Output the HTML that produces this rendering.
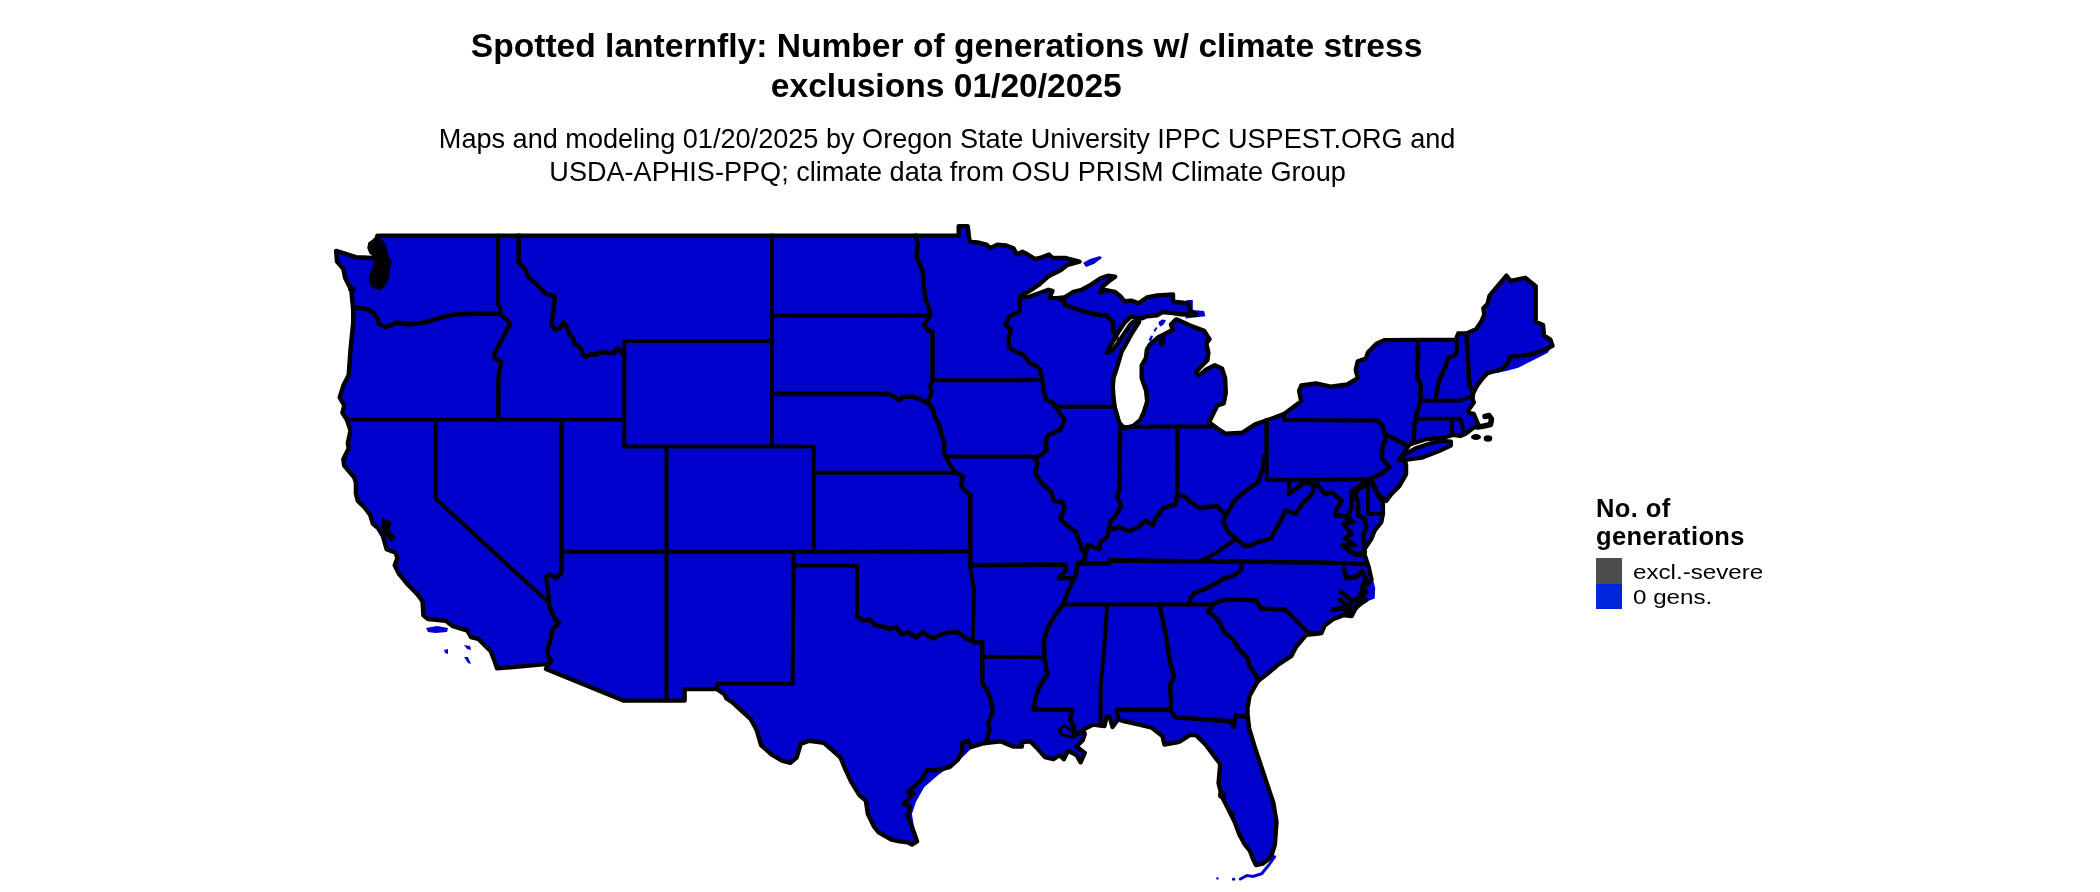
<!DOCTYPE html>
<html><head><meta charset="utf-8"><style>
html,body{margin:0;padding:0;background:#fff;}
body{width:2100px;height:892px;position:relative;overflow:hidden;font-family:"Liberation Sans",sans-serif;color:#000;}
.t{position:absolute;white-space:nowrap;will-change:transform;}
</style></head><body>
<svg width="2100" height="892" viewBox="0 0 2100 892" style="position:absolute;left:0;top:0">
<path d="M985.2,742.9 L970.6,749.2 L958.0,761.7 L939.1,774.3 L924.4,786.9 L916.1,801.6 L911.9,814.1 L914.0,826.7 L917.1,841.4 L917.1,841.4 L911.9,826.7 L907.7,816.2 L909.8,805.8 L903.5,803.7 L914.0,793.2 L907.7,792.1 L916.1,784.8 L922.4,778.5 L926.5,770.1 L937.0,770.1 L949.6,767.0 L958.0,759.6 L962.2,751.3 L962.2,742.9 L968.5,740.8 L970.6,747.1 L985.0,743.0Z" fill="#0000cc"/>
<path d="M1368.4,566.1 L1373.6,581.7 L1375.2,588.0 L1374.7,598.4 L1364.2,602.5 L1351.7,616.1 L1356.9,605.3 L1360.5,594.3 L1364.2,587.0 L1371.5,579.7Z" fill="#0000cc"/>
<path d="M1552.5,345.9 L1547.5,353.1 L1527.1,363.3 L1518.3,367.7 L1508.1,370.6 L1495.0,373.5 L1502.2,369.0 L1506.4,364.8 L1510.6,356.4 L1516.8,356.4 L1531.5,354.3 L1544.1,350.1Z" fill="#0000cc"/>
<path d="M1186.5,300.1 L1192.8,300.1 L1192.8,310.0 L1204.2,311.1 L1205.3,316.3 L1185.5,318.4Z" fill="#0000cc"/>
<path d="M377.4,235.6 L958.7,235.6 L958.7,226.1 L967.7,226.1 L969.5,241.0 L972.2,241.9 L979.4,242.8 L986.5,244.6 L990.1,248.2 L997.3,244.6 L1006.3,245.5 L1013.5,248.2 L1017.0,254.5 L1022.4,251.8 L1027.8,254.5 L1035.0,259.0 L1040.0,258.0 L1049.0,254.5 L1052.6,258.0 L1065.1,258.0 L1079.5,261.6 L1066.9,265.2 L1060.9,270.0 L1048.4,276.3 L1039.0,284.6 L1029.6,290.8 L1020.2,296.1 L1026.5,297.6 L1036.9,294.0 L1048.4,289.8 L1052.5,290.8 L1049.4,298.1 L1057.8,298.1 L1065.1,297.1 L1073.4,291.9 L1081.7,289.8 L1091.1,284.6 L1100.5,278.3 L1107.8,275.7 L1115.1,276.8 L1109.9,280.4 L1102.6,286.7 L1100.5,292.9 L1104.7,289.8 L1115.1,291.9 L1120.3,296.1 L1124.5,301.3 L1131.3,300.6 L1138.6,303.2 L1146.9,297.5 L1157.3,295.4 L1173.0,294.4 L1173.0,301.7 L1183.4,302.7 L1188.6,303.8 L1189.6,310.0 L1195.9,314.7 L1180.3,314.2 L1173.0,313.1 L1162.5,312.1 L1157.3,315.2 L1146.9,316.3 L1141.7,318.4 L1135.4,317.3 L1131.3,316.3 L1125.0,322.0 L1119.0,331.0 L1114.5,339.0 L1109.5,347.0 L1107.0,353.0 L1112.0,351.0 L1118.0,343.0 L1124.0,334.0 L1130.0,325.0 L1135.5,319.5 L1139.0,322.0 L1132.0,333.0 L1126.0,344.0 L1121.5,352.0 L1119.8,358.0 L1116.7,368.4 L1113.5,378.0 L1112.8,386.8 L1113.6,399.2 L1114.9,407.7 L1119.1,422.4 L1124.4,428.5 L1133.8,425.5 L1140.1,420.3 L1144.0,411.7 L1147.2,401.3 L1146.1,390.8 L1141.7,378.0 L1141.7,365.3 L1145.9,358.0 L1146.9,349.6 L1150.0,344.4 L1158.4,337.1 L1166.7,333.0 L1173.0,329.8 L1170.9,324.6 L1176.1,319.4 L1179.2,320.4 L1190.7,325.7 L1204.2,330.9 L1209.5,339.2 L1206.3,343.4 L1208.4,352.8 L1207.4,360.1 L1200.1,367.4 L1195.9,372.6 L1199.0,375.7 L1206.3,369.4 L1214.7,365.3 L1222.0,368.4 L1225.1,378.0 L1225.8,392.9 L1223.7,403.4 L1217.4,405.5 L1213.2,413.8 L1209.0,422.2 L1217.4,428.5 L1225.8,433.8 L1242.5,432.7 L1255.1,424.3 L1267.7,420.1 L1284.4,413.8 L1301.2,401.3 L1299.1,390.8 L1301.2,385.5 L1315.9,383.4 L1330.6,386.6 L1347.3,384.5 L1357.8,378.2 L1355.7,369.8 L1357.8,361.4 L1365.9,358.5 L1368.0,352.2 L1376.4,343.8 L1384.8,340.1 L1456.0,339.6 L1458.2,333.4 L1466.5,333.4 L1476.0,329.2 L1481.2,321.8 L1484.4,314.5 L1483.3,308.2 L1487.5,304.0 L1489.6,295.6 L1506.4,275.7 L1510.6,281.0 L1525.2,277.8 L1535.7,286.2 L1535.7,321.8 L1543.0,325.0 L1544.1,335.5 L1550.4,339.6 L1552.5,345.9 L1544.1,350.1 L1531.5,354.3 L1516.8,356.4 L1510.6,356.4 L1506.4,364.8 L1502.2,369.0 L1487.5,373.2 L1483.3,377.4 L1477.0,385.8 L1472.8,394.1 L1471.7,396.3 L1473.8,402.5 L1468.6,409.8 L1468.6,412.9 L1473.8,414.0 L1476.9,421.3 L1479.0,426.5 L1473.8,427.5 L1465.5,433.8 L1460.3,435.9 L1453.0,434.8 L1442.5,438.0 L1426.9,439.0 L1410.2,444.2 L1408.1,446.3 L1402.9,454.6 L1398.8,459.8 L1405.0,460.9 L1406.1,465.1 L1406.0,474.4 L1399.4,485.9 L1391.2,494.2 L1386.2,500.8 L1378.0,494.2 L1373.0,485.9 L1371.4,479.3 L1374.7,485.9 L1378.0,495.8 L1382.9,502.4 L1382.9,513.9 L1381.3,522.2 L1374.7,530.4 L1371.4,538.7 L1364.8,548.5 L1363.2,550.4 L1368.4,566.1 L1371.5,579.7 L1364.2,587.0 L1360.5,594.3 L1356.9,605.3 L1351.7,616.1 L1343.4,615.1 L1333.0,619.2 L1324.6,625.5 L1321.5,633.0 L1316.7,633.7 L1306.2,634.8 L1295.7,647.4 L1291.5,655.8 L1278.9,664.1 L1266.4,674.6 L1258.0,680.9 L1249.6,695.6 L1247.5,708.2 L1247.5,714.2 L1249.2,728.7 L1254.0,744.7 L1260.4,764.0 L1266.8,783.3 L1273.3,802.6 L1276.5,821.9 L1274.9,844.5 L1271.0,857.0 L1263.0,863.5 L1256.0,865.0 L1253.0,859.0 L1250.0,851.0 L1244.8,844.5 L1239.5,834.8 L1234.7,821.9 L1229.9,812.3 L1221.8,796.2 L1218.6,783.3 L1220.2,764.0 L1215.4,757.6 L1205.7,744.7 L1196.1,735.1 L1189.6,735.1 L1180.0,741.5 L1177.0,742.4 L1164.4,744.5 L1162.4,736.1 L1151.9,727.7 L1139.3,724.6 L1124.6,721.4 L1118.3,719.3 L1112.5,727.0 L1109.5,716.5 L1106.5,717.0 L1104.5,726.0 L1100.5,725.6 L1093.2,724.6 L1082.7,729.8 L1084.8,734.0 L1082.7,740.3 L1076.4,746.6 L1084.8,752.9 L1080.6,762.3 L1076.4,755.0 L1068.0,750.8 L1063.8,759.2 L1059.6,755.0 L1053.4,759.2 L1045.0,757.1 L1036.6,747.6 L1030.3,741.4 L1021.9,742.4 L1021.9,746.6 L1013.5,746.6 L1001.0,741.4 L985.0,743.0 L970.6,747.1 L968.5,740.8 L962.2,742.9 L962.2,751.3 L958.0,759.6 L949.6,767.0 L937.0,770.1 L926.5,770.1 L922.4,778.5 L916.1,784.8 L907.7,792.1 L914.0,793.2 L903.5,803.7 L909.8,805.8 L907.7,816.2 L911.9,826.7 L917.1,841.4 L911.9,844.5 L907.7,842.4 L899.3,841.4 L890.9,839.3 L878.3,832.0 L874.1,826.7 L867.9,814.1 L865.8,800.5 L859.5,795.3 L851.1,781.7 L844.8,768.0 L840.6,757.6 L832.2,750.2 L823.8,742.9 L809.2,740.8 L800.8,743.9 L796.6,757.6 L790.3,762.8 L781.9,760.7 L771.4,754.4 L761.0,745.0 L756.8,730.3 L750.5,718.8 L740.0,709.3 L732.8,702.7 L726.5,698.5 L724.4,694.3 L717.1,689.1 L684.6,689.1 L684.6,700.6 L623.8,700.6 L546.0,669.0 L548.4,663.9 L497.0,668.4 L494.3,660.3 L490.7,651.3 L478.1,638.8 L470.9,637.0 L467.4,630.7 L453.0,626.2 L445.8,620.8 L427.9,619.0 L423.4,615.4 L422.5,601.1 L417.1,593.9 L408.2,585.0 L399.2,574.2 L394.7,565.2 L397.4,558.0 L395.6,552.7 L386.6,549.1 L383.0,536.5 L378.0,528.0 L372.9,523.9 L370.2,514.9 L364.8,507.7 L357.7,500.6 L355.9,493.4 L355.9,482.6 L354.1,477.2 L344.2,465.6 L343.3,459.3 L348.7,448.5 L347.8,443.2 L350.5,430.6 L346.9,419.8 L342.4,412.7 L344.2,405.5 L339.7,397.4 L343.3,385.8 L348.7,375.0 L350.5,349.5 L353.2,322.6 L353.2,309.2 L352.3,301.1 L351.4,290.3 L348.7,285.0 L345.1,277.8 L343.3,268.8 L337.0,261.6 L336.1,250.9 L355.9,257.2 L373.8,258.0 L377.0,250.0Z" fill="#0000cc" stroke="#000" stroke-width="4.4" stroke-linejoin="round"/>
<path d="M1398.8,459.8 L1403.0,455.5 L1415.0,448.5 L1430.0,443.5 L1442.0,440.8 L1451.0,441.5 L1450.9,445.8 L1438.4,451.5 L1421.7,457.8 L1407.1,459.8Z" fill="#0000cc" stroke="#000" stroke-width="4.0" stroke-linejoin="round"/>
<path d="M498.1,235.6 L498.1,304.0 L501.0,309.0 L499.4,313.7 M346.9,419.8 L624.3,419.8 M435.7,419.8 L435.7,498.8 L549.0,602.9 M561.5,551.8 L793.6,551.8 L969.7,551.5 M666.4,551.8 L666.4,700.6 M624.3,340.9 L624.3,446.5 M624.3,340.9 L772.0,340.9 M624.3,446.5 L813.6,446.5 M666.4,446.5 L666.4,551.8 M772.0,235.6 L772.0,446.5 M813.6,446.5 L813.6,551.5 M772.0,315.8 L930.0,315.5 M813.6,472.8 L954.0,472.8 M793.6,551.8 L793.6,565.5 L857.1,565.6 L857.1,616.5 M793.6,565.5 L792.6,683.8 L717.1,683.8 L717.1,689.1 M969.7,565.2 L973.9,588.2 L972.8,640.6 L974.9,642.7 M982.3,656.7 L1043.0,657.2 M932.4,380.3 L1041.6,380.1 M945.2,456.6 L1033.2,456.6 L1034.2,458.0 M1054.1,406.7 L1113.9,406.7 M1124.4,427.0 L1177.4,426.4 L1206.9,426.4 L1211.0,427.0 M1177.4,426.4 L1177.4,495.8 M1266.6,455.8 L1266.6,479.9 M1284.4,413.8 L1284.4,420.1 L1377.2,420.5 M1266.6,479.9 L1369.7,479.3 M1236.3,538.7 L1223.1,548.0 L1216.1,553.1 L1199.3,561.4 M1063.1,604.4 L1214.0,604.4 M1107.1,604.4 L1105.0,639.0 L1100.8,685.1 L1100.5,725.6 M1420.4,400.4 L1461.3,400.4 L1468.6,397.3 L1471.7,396.3 M1417.5,418.7 L1460.3,418.7 L1462.4,425.4 L1463.4,431.7 M1451.9,419.2 L1451.9,434.8 M1368.1,482.6 L1368.1,513.9 L1379.6,513.9" fill="none" stroke="#000" stroke-width="4.0" stroke-linejoin="round" stroke-linecap="round"/>
<path d="M353.2,309.2 L355.9,307.4 L366.6,309.2 L373.8,312.8 L377.4,319.0 L379.2,324.4 L386.4,327.1 L397.1,322.6 L409.7,324.4 L424.0,322.6 L442.0,317.2 L456.3,314.2 L477.8,313.7 L499.4,313.7 M499.4,313.7 L508.3,320.8 L510.0,324.4 L499.4,344.1 L494.0,354.9 L494.9,358.5 L501.2,362.1 L498.6,375.0 L498.1,419.8 M561.5,419.8 L561.5,551.8 L561.5,572.5 L556.8,578.0 L550.5,574.8 L546.3,576.9 L548.4,595.8 L549.0,602.9 L549.4,606.3 L554.7,618.8 L558.9,623.0 L552.6,629.3 L550.5,639.8 L547.3,650.3 L548.4,656.6 L551.5,660.8 L548.4,663.9 M1057.8,298.1 L1064.0,301.3 L1065.1,305.4 L1078.6,309.6 L1092.2,313.8 L1106.8,315.9 L1113.0,322.1 L1113.0,330.5 L1116.5,338.0 M518.7,235.6 L518.7,262.5 L526.3,270.6 L528.1,276.9 L535.2,283.2 L546.0,293.9 L555.0,296.6 L553.2,311.9 L551.4,324.4 L555.0,329.8 L560.0,328.0 L563.6,322.6 L567.2,328.0 L569.9,335.2 L573.5,338.8 L574.4,344.1 L577.9,346.0 L581.5,349.5 L583.3,354.9 L586.9,356.7 L590.5,354.0 L595.9,354.9 L599.5,352.2 L613.8,353.1 L617.4,347.7 L621.9,353.1 L624.3,354.9 M772.0,393.9 L889.0,393.9 L899.4,400.1 L902.5,397.0 L913.0,396.5 L923.4,400.7 L928.6,403.8 M857.1,616.5 L863.8,620.7 L870.1,619.6 L874.3,624.9 L884.8,627.0 L889.0,629.1 L896.3,627.0 L901.6,634.3 L907.9,632.2 L916.2,637.5 L922.5,632.2 L933.0,638.5 L941.4,634.3 L949.8,632.2 L958.2,632.2 L966.5,638.5 L974.9,642.7 L982.3,641.7 M982.3,641.7 L982.3,683.6 L987.5,690.9 L991.7,703.5 L992.7,711.9 L988.5,722.4 L989.4,730.3 L987.3,738.7 L985.0,743.0 M953.5,470.6 L963.0,476.9 L960.9,485.3 L966.1,491.6 L970.3,494.7 L970.3,565.2 M969.7,565.2 L1065.2,564.6 L1066.2,569.8 L1058.9,578.2 L1074.5,578.2 M928.6,403.8 L932.8,409.0 L934.9,417.3 L939.0,424.6 L941.1,433.0 L944.2,443.4 L944.1,453.8 L949.3,463.3 L953.5,470.6 M930.0,315.5 L925.6,322.6 L923.8,324.4 L927.4,329.8 L932.4,331.6 L932.4,380.3 L930.2,387.1 L931.7,392.3 L928.6,400.7 L928.6,403.8 M915.7,235.6 L917.5,243.7 L916.6,256.3 L922.9,272.4 L923.8,286.7 L925.6,299.3 L929.1,308.3 L930.0,315.5 M1020.2,296.1 L1019.2,311.7 L1008.8,316.9 L1005.6,325.2 L1010.8,329.4 L1008.8,337.8 L1008.8,347.1 L1015.0,351.3 L1024.4,355.5 L1029.6,363.0 L1035.0,365.0 L1040.0,369.3 L1042.6,382.6 M1041.6,380.1 L1042.6,382.6 L1043.7,391.0 L1045.8,399.3 L1054.1,403.5 L1060.4,414.0 L1064.6,420.3 L1060.4,429.7 L1047.9,435.0 L1045.8,441.3 L1046.8,449.6 L1041.6,454.9 L1034.2,458.0 L1037.4,462.2 L1035.3,472.7 L1041.6,483.2 L1051.0,491.6 L1054.1,501.0 L1062.5,502.0 L1064.6,508.3 L1060.4,518.8 L1066.7,525.1 L1076.1,532.4 L1079.3,541.9 L1082.4,550.3 L1085.6,554.5 L1085.1,559.3 L1077.7,563.5 L1075.6,576.1 L1069.3,588.7 L1065.2,599.2 L1061.0,607.6 L1054.7,615.9 L1048.4,626.4 L1044.2,639.0 L1044.2,655.8 L1047.3,674.6 L1040.0,685.1 L1035.7,697.2 L1033.6,709.8 M1085.6,554.5 L1087.7,545.0 L1099.2,549.2 L1100.3,541.9 L1106.5,537.7 L1108.6,531.4 L1110.7,520.9 L1114.9,516.7 L1121.2,506.2 L1117.0,495.8 L1119.1,491.6 L1120.2,428.0 M1108.6,530.0 L1119.1,527.2 L1129.6,531.4 L1138.0,527.2 L1145.3,520.9 L1152.7,525.1 L1156.9,516.7 L1163.1,508.3 L1175.7,504.1 L1176.8,495.8 L1184.1,495.8 L1190.4,502.0 L1200.0,508.3 L1216.5,505.7 L1224.7,513.9 L1226.4,514.8 M1266.6,420.1 L1266.6,455.8 L1264.5,455.8 L1262.6,469.4 L1257.7,482.6 L1247.8,489.2 L1239.6,495.8 L1234.6,500.8 L1229.7,509.0 L1226.4,514.8 M1289.0,480.0 L1289.0,494.2 L1303.8,482.6 L1313.7,484.3 L1317.0,484.3 L1325.2,494.2 L1331.8,492.5 L1341.7,500.8 L1336.8,509.0 L1335.1,515.6 L1343.4,515.6 L1351.6,522.2 M1226.4,514.8 L1223.1,520.5 L1228.0,532.1 L1236.3,538.7 L1244.5,546.1 L1251.1,545.2 L1257.7,542.0 L1270.9,538.7 L1274.2,532.1 L1280.8,520.5 L1285.7,510.6 L1295.6,513.9 L1302.2,504.0 L1312.1,494.2 L1313.7,485.9 M1077.7,563.5 L1109.2,563.5 L1109.2,560.4 L1199.3,561.4 L1320.0,562.5 L1364.0,564.0 M1241.2,562.0 L1241.2,569.8 L1232.8,576.1 L1224.4,578.2 L1218.2,582.4 L1203.5,589.7 L1195.1,592.9 L1190.9,597.1 L1188.8,604.4 M1214.0,603.4 L1226.5,599.2 L1255.9,600.2 L1261.1,608.6 L1285.2,609.6 L1308.3,632.7 L1316.7,633.7 M1214.0,604.4 L1207.7,611.7 L1214.0,615.9 L1218.2,620.1 L1224.4,632.7 L1232.8,639.0 L1239.1,649.5 L1247.5,657.9 L1249.6,666.2 L1255.9,674.6 L1258.0,680.9 M1159.5,604.4 L1165.8,634.8 L1170.0,662.0 L1174.1,676.7 L1170.0,685.1 L1171.0,697.7 L1170.7,709.9 M1118.3,719.3 L1116.2,709.9 L1170.7,709.9 L1174.9,717.2 L1231.5,721.4 L1233.6,726.7 L1235.7,715.2 L1247.5,717.2 M1033.6,709.8 L1072.2,709.9 L1070.1,719.3 L1074.3,727.7 L1074.3,736.1 L1082.7,731.0 M1377.2,420.5 L1382.7,425.6 L1384.8,434.0 L1389.4,435.9 L1408.1,446.3 M1386.3,436.9 L1382.1,448.4 L1382.1,458.8 L1389.4,467.1 L1382.1,473.4 L1374.7,476.9 L1369.7,479.3 L1368.1,482.6 M1417.3,340.2 L1418.3,352.2 L1417.3,364.8 L1417.3,377.4 L1420.4,383.7 L1420.4,402.5 L1416.5,414.0 L1414.4,426.5 L1413.4,442.1 L1410.2,444.2 M1456.0,339.6 L1457.1,348.0 L1456.0,354.3 L1447.7,358.5 L1445.6,366.9 L1439.3,379.5 L1437.2,390.0 L1435.1,400.4 M1466.5,333.4 L1467.6,354.3 L1468.6,375.3 L1469.7,385.8 L1472.8,392.0 L1472.8,396.2 M1368.1,481.0 L1361.5,484.3 L1351.6,490.9 L1351.6,507.3 L1348.3,515.6 L1353.3,522.2 L1343.4,523.8 L1351.6,533.7 L1345.0,538.7 L1354.9,545.2 L1343.4,545.2 L1353.3,553.5 L1361.5,555.1 L1364.8,551.8 M1364.8,548.5 L1363.1,535.4 L1366.4,527.1 L1364.8,518.9 L1358.2,515.6 L1358.2,502.4 L1354.9,494.2 L1358.2,489.2 L1364.8,485.9 L1368.1,482.6" fill="none" stroke="#000" stroke-width="4.6" stroke-linejoin="round" stroke-linecap="round"/>
<path d="M377,236 L382,241 L385.5,244 L386,250 L388,256 L391,262 L389,268 L388.5,276 L386.5,283 L381,289 L375,288.5 L370,284 L369.5,277 L372,270 L374,263 L375,257 L370,253 L368,248 L369,243 L373,240 Z" fill="#000" stroke="#000" stroke-width="1.5"/><ellipse cx="352" cy="289" rx="4" ry="3" fill="#000"/>
<path d="M383,520 L390,523 L388,530 L394,538 L391,540 L385,533 L383,527 Z" fill="#000" stroke="#000" stroke-width="3"/>
<path d="M1478,427 L1484,426 L1490.5,424.5 L1491.5,419 L1489,415.5 L1485,416.5" fill="none" stroke="#000" stroke-width="5.5" stroke-linecap="round" stroke-linejoin="round"/>
<ellipse cx="1476" cy="437" rx="5" ry="3" fill="#000"/><ellipse cx="1488" cy="438.5" rx="4.3" ry="3.3" fill="#000"/>
<path d="M1059,730 L1064,725.5 L1070,729 L1075,733 L1072,737 L1062,735 Z" fill="none" stroke="#000" stroke-width="3"/>
<path d="M1344,569 L1346,578 L1356,577 L1362,571 M1362,571 L1366,580 L1362,587 L1366,592 L1360,598 L1352,601 L1341,592 M1352,601 L1349,607 L1340,600 M1349,607 L1351,613 L1342,608 L1333,610 M1351,612 L1357,606 L1366,600" fill="none" stroke="#000" stroke-width="5" stroke-linecap="round" stroke-linejoin="round"/>
<path d="M1342,545 L1350,552 L1356,555 L1363,552 M1364,541 L1364,550" fill="none" stroke="#000" stroke-width="4" stroke-linecap="round"/>
<ellipse cx="1162" cy="341" rx="3.5" ry="6" fill="#000"/>
<ellipse cx="1222" cy="795" rx="4" ry="4" fill="#000"/><ellipse cx="1232" cy="814" rx="3" ry="3" fill="#000"/>
<path d="M1083,263 L1090,259 L1100,256 L1102,258 L1094,264 L1086,267 Z" fill="#0000cc"/>
<path d="M1158.5,322 L1162,319.5 L1166,320 L1164,324 L1161,326.5 L1159,325 Z M1153.5,330.5 L1156,327 L1157.5,328 L1155,332 Z M1148.5,340 L1151,335.5 L1153,336 L1151,341.5 Z" fill="#0000cc"/>
<path d="M426,628 L437,626 L448,628 L447,632 L435,633 L428,632 Z M444,650 L448,649 L448,654 L445,653 Z M464,645 L470,646 L471,650 L467,649 Z M464,657 L468,657 L471,664 L468,663 Z" fill="#0000cc"/>
<path d="M1274.6,856.8 L1268,866 L1261.7,873.6 L1253,876.5 L1247,875.5 L1240.4,879" fill="none" stroke="#0000cc" stroke-width="3" stroke-linecap="round"/><circle cx="1233.6" cy="879.2" r="1.6" fill="#0000cc"/><circle cx="1217.4" cy="878.4" r="1.2" fill="#0000cc"/>
<rect x="1596" y="558" width="26" height="26" fill="#4d4d4d"/>
<rect x="1596" y="584" width="26" height="25" fill="#0026dd"/>
</svg>
<div class="t" id="t1" style="left:0;width:1893.2px;text-align:center;top:27px;font-size:33.6px;font-weight:bold;">Spotted lanternfly: Number of generations w/ climate stress</div>
<div class="t" id="t2" style="left:0;width:1892.6px;text-align:center;top:67px;font-size:33.6px;font-weight:bold;">exclusions 01/20/2025</div>
<div class="t" id="s1" style="left:0;width:1894.2px;text-align:center;top:123px;font-size:27.1px;">Maps and modeling 01/20/2025 by Oregon State University IPPC USPEST.ORG and</div>
<div class="t" id="s2" style="left:0;width:1895.1px;text-align:center;top:156px;font-size:27.1px;">USDA-APHIS-PPQ; climate data from OSU PRISM Climate Group</div>
<div class="t" id="l1" style="left:1596px;top:494px;font-size:25.5px;font-weight:bold;line-height:28px;letter-spacing:0.4px;">No. of<br>generations</div>
<div class="t" id="e1" style="left:1633px;top:560px;font-size:21px;transform-origin:0 0;transform:scaleX(1.15);will-change:transform;">excl.-severe</div>
<div class="t" id="e2" style="left:1633px;top:585px;font-size:21px;transform-origin:0 0;transform:scaleX(1.15);will-change:transform;">0 gens.</div>
</body></html>
